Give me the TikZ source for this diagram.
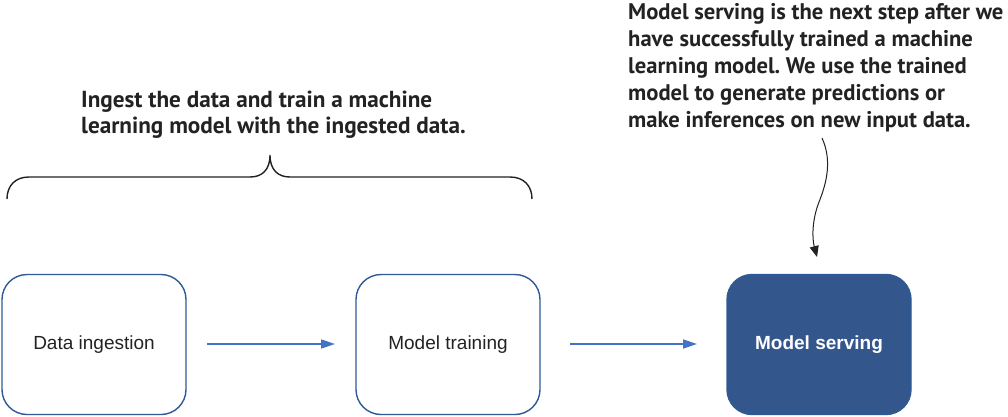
\documentclass[tikz,border=0pt]{standalone}
\usepackage{fontspec}
\setmainfont{Liberation Sans}
\newfontfamily\notefont{PT Sans}
\usetikzlibrary{arrows.meta}
\frenchspacing
\definecolor{boxline}{HTML}{2F5A96}
\definecolor{boxfill}{HTML}{33578D}
\definecolor{arrowblue}{HTML}{4472C4}
\definecolor{inkgray}{HTML}{222222}
\tikzset{
  stagebox/.style={draw=boxline, line width=1.4pt, rounded corners=25pt, minimum width=184pt, minimum height=140pt, inner sep=0pt, font=\fontsize{19}{22}\selectfont, text=inkgray},
  servebox/.style={stagebox, fill=boxfill, text=white, font=\fontsize{19}{22}\selectfont\bfseries},
  flow/.style={draw=arrowblue, line width=1.5pt, -{Triangle[length=14pt,width=9pt]}},
  note/.style={font=\notefont\bfseries\fontsize{23}{26.5}\selectfont, align=left, inner sep=0pt, text=inkgray, anchor=base west},
  bracestyle/.style={draw=inkgray, line width=1.4pt},
  callout/.style={draw=inkgray, line width=1pt, -{Triangle[length=11pt,width=9pt]}}
}
\begin{document}
\begin{tikzpicture}[x=1pt,y=-1pt]
\useasboundingbox (0,0) rectangle (1008,417);
\node[stagebox] (ingest) at (94,344.5) {Data ingestion};
\node[stagebox] (train) at (448,344.5) {Model training};
\node[servebox] (serve) at (819,344.5) {Model serving};
\coordinate (a1s) at (207,344);
\coordinate (a1e) at (335,344);
\coordinate (a2s) at (570,344);
\coordinate (a2e) at (697,344);
\draw[flow] (a1s) -- (a1e);
\draw[flow] (a2s) -- (a2e);
\node[note, font=\notefont\bfseries\fontsize{23.2}{26}\selectfont] (note1) at (81,133) {Ingest the data and train a machine\\learning model with the ingested data.};
\node[note, font=\notefont\bfseries\fontsize{22.6}{27}\selectfont] (note2) at (628,127.5) {Model serving is the next step after we\\have successfully trained a machine\\learning model. We use the trained\\model to generate predictions or\\make inferences on new input data.};
\coordinate (bl) at (7,199);
\coordinate (br) at (532,199);
\coordinate (btip) at (270,155);
\draw[bracestyle] (bl) .. controls (7,186) and (15,177) .. (29,177) -- (250,177)
  .. controls (262,177) and (270,170) .. (btip)
  .. controls (270,170) and (278,177) .. (290,177) -- (510,177)
  .. controls (524,177) and (532,186) .. (br);
\coordinate (cs) at (822,138);
\coordinate (ce) at (817,257);
\draw[callout] (cs) .. controls (832,160) and (827,182) .. (819,202) .. controls (812,220) and (812,238) .. (ce);
\end{tikzpicture}
\end{document}
